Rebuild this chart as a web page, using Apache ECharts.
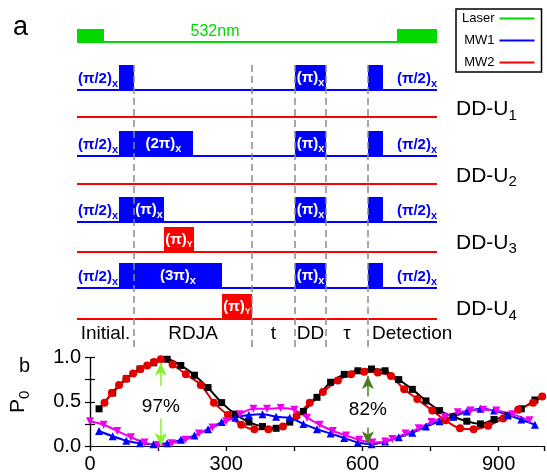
<!DOCTYPE html>
<html>
<head>
<meta charset="utf-8">
<script src="https://cdn.jsdelivr.net/npm/echarts@6/dist/echarts.min.js"></script>
<style>
  html, body { margin: 0; padding: 0; background: #fff; }
  #chart { width: 547px; height: 474px; }
</style>
</head>
<body>
<div id="chart"></div>
<script>
const F = '"Liberation Sans", Arial, sans-serif';

// ---------- panel a : pulse sequence (schematic time units) ----------
const laserPulses = [[0, 27], [320, 360]];
const seqEnd = 360;
const rowNames = ['1', '2', '3', '4'];
// MW1 pulses: [row, start, end, rotation]
const mw1Pulses = [
  [0, 42, 57, ''], [0, 218, 249, 'π'], [0, 291, 306, ''],
  [1, 42, 57, ''], [1, 57, 116, '2π'], [1, 218, 249, 'π'], [1, 291, 306, ''],
  [2, 42, 57, ''], [2, 57, 87, 'π'], [2, 218, 249, 'π'], [2, 291, 306, ''],
  [3, 42, 57, ''], [3, 57, 145, '3π'], [3, 218, 249, 'π'], [3, 291, 306, '']
];
// MW2 pulses: [row, start, end, rotation]
const mw2Pulses = [[2, 87, 117, 'π'], [3, 145, 175, 'π']];
const dashTimes = [57, 175, 218, 249, 291];
const stageEdges = [0, 57, 175, 218, 249, 291, 360];
const stageNames = ['Initial.', 'RDJA', 't', 'DD', 'τ', 'Detection'];

// ---------- panel b : P0 vs evolution time ----------
const blackT = [20, 50, 80, 110, 140, 170, 200, 230, 260, 290, 320, 350, 380, 410, 440, 470, 500, 530, 560, 590, 620, 650, 680, 710, 740, 770, 800, 830, 860, 890, 920, 950, 980];
const blackP = [0.42, 0.60, 0.76, 0.87, 0.94, 0.98, 0.91, 0.80, 0.66, 0.49, 0.36, 0.27, 0.22, 0.20, 0.27, 0.39, 0.55, 0.72, 0.81, 0.85, 0.87, 0.85, 0.75, 0.64, 0.51, 0.40, 0.33, 0.28, 0.25, 0.30, 0.34, 0.42, 0.52];
const redT = [32, 48, 64, 80, 95, 111, 126, 141, 156, 182, 211, 244, 273, 304, 333, 362, 393, 425, 455, 484, 513, 546, 575, 604, 634, 663, 692, 721, 754, 783, 815, 845, 877, 910, 943, 976, 996];
const redP = [0.49, 0.60, 0.69, 0.76, 0.82, 0.87, 0.91, 0.95, 0.98, 0.92, 0.81, 0.69, 0.49, 0.35, 0.24, 0.19, 0.19, 0.22, 0.34, 0.49, 0.61, 0.74, 0.81, 0.84, 0.83, 0.79, 0.64, 0.53, 0.40, 0.29, 0.20, 0.19, 0.23, 0.31, 0.41, 0.49, 0.56];
const blueT = [20, 50, 80, 110, 140, 170, 200, 230, 260, 290, 320, 350, 380, 410, 440, 470, 500, 530, 560, 590, 620, 650, 680, 710, 740, 770, 800, 830, 860, 890, 920, 950, 980];
const blueP = [0.17, 0.11, 0.06, 0.03, 0.02, 0.03, 0.07, 0.12, 0.19, 0.27, 0.32, 0.35, 0.36, 0.33, 0.32, 0.25, 0.19, 0.14, 0.09, 0.04, 0.02, 0.05, 0.10, 0.15, 0.22, 0.28, 0.33, 0.39, 0.42, 0.40, 0.35, 0.30, 0.24];
const magT = [0, 30, 60, 90, 120, 150, 180, 210, 240, 270, 300, 330, 360, 390, 420, 450, 478, 506, 535, 564, 593, 622, 650, 666, 695, 724, 752, 781, 810, 838, 866, 895, 930, 968];
const magP = [0.28, 0.24, 0.17, 0.10, 0.04, 0.01, 0.03, 0.07, 0.14, 0.21, 0.28, 0.36, 0.42, 0.42, 0.43, 0.41, 0.32, 0.24, 0.17, 0.12, 0.07, 0.04, 0.05, 0.08, 0.14, 0.20, 0.27, 0.33, 0.38, 0.40, 0.41, 0.40, 0.36, 0.29];
// contrast arrows: [t, from P, to P (arrow head)]
const arrowSegs = [[156, 0.68, 0.94], [156, 0.31, 0.0], [612, 0.56, 0.79], [612, 0.21, 0.02]];
const contrastT = [156, 612];
const contrastP = [0.44, 0.41];
const contrastText = ['97%', '82%'];

// ---------- layout of panel a (axis units = px of schematic) ----------
const laserY = 42, laserH = 13;
const mw1Line = [90, 156, 222, 288];
const mw2Line = [117, 184, 252, 319];
const pulseH = 25;
const GREEN = '#00d800', BLUE = '#0000ff', RED = '#ff0000';

const subRich = (sub) => ({
  m: { fontSize: 15, fontWeight: 'bold', fontFamily: F },
  s: { fontSize: sub, fontWeight: 'bold', fontFamily: F, verticalAlign: 'bottom', padding: [9, 0, 0, 0] }
});

function txt(p, text, fill, align, rich, extra) {
  return {
    type: 'text',
    style: Object.assign({ x: p[0], y: p[1], text: text, fill: fill, align: align,
      verticalAlign: 'middle', rich: rich, fontFamily: F }, extra || {})
  };
}

function pulseRender(list, lines, color, subLetter, subSize) {
  return function (params, api) {
    const d = list[params.dataIndex];
    const base = lines[d[0]];
    const p0 = api.coord([d[1], base]);
    const p1 = api.coord([d[2], base - pulseH]);
    const kids = [{
      type: 'rect',
      shape: { x: p0[0], y: p1[1], width: p1[0] - p0[0], height: p0[1] - p1[1] },
      style: { fill: color }
    }];
    if (d[3]) {
      const c = api.coord([(d[1] + d[2]) / 2, base - 12]);
      kids.push(txt(c, '{m|(' + d[3] + ')}{s|' + subLetter + '}', '#fff', 'center', subRich(subSize)));
    }
    return { type: 'group', children: kids };
  };
}

const series = [];
// channel base lines
series.push({ name: 'Laser', type: 'line', xAxisIndex: 0, yAxisIndex: 0, data: [[0, laserY], [seqEnd, laserY]],
  symbol: 'none', color: GREEN, lineStyle: { width: 2, color: GREEN }, silent: true });
mw1Line.forEach(y => series.push({ name: 'MW1', type: 'line', xAxisIndex: 0, yAxisIndex: 0,
  data: [[0, y], [seqEnd, y]], symbol: 'none', color: BLUE, lineStyle: { width: 2, color: BLUE }, silent: true }));
mw2Line.forEach(y => series.push({ name: 'MW2', type: 'line', xAxisIndex: 0, yAxisIndex: 0,
  data: [[0, y], [seqEnd, y]], symbol: 'none', color: RED, lineStyle: { width: 2, color: RED }, silent: true }));

// laser pulses + wavelength label
series.push({
  name: 'laserPulses', type: 'custom', xAxisIndex: 0, yAxisIndex: 0, clip: false, silent: true,
  data: laserPulses,
  renderItem: (params, api) => {
    const d = laserPulses[params.dataIndex];
    const p0 = api.coord([d[0], laserY]), p1 = api.coord([d[1], laserY - laserH]);
    const kids = [{ type: 'rect', shape: { x: p0[0], y: p1[1], width: p1[0] - p0[0], height: p0[1] - p1[1] + 1 }, style: { fill: GREEN } }];
    if (params.dataIndex === 0) {
      kids.push(txt(api.coord([138, laserY - 10]), '532nm', GREEN, 'center', null, { fontSize: 16 }));
    }
    return { type: 'group', children: kids };
  }
});

series.push({ name: 'mw1Pulses', type: 'custom', xAxisIndex: 0, yAxisIndex: 0, clip: false, silent: true,
  data: mw1Pulses.map(d => [d[1], d[2]]), renderItem: pulseRender(mw1Pulses, mw1Line, BLUE, 'x', 11) });
series.push({ name: 'mw2Pulses', type: 'custom', xAxisIndex: 0, yAxisIndex: 0, clip: false, silent: true,
  data: mw2Pulses.map(d => [d[1], d[2]]), renderItem: pulseRender(mw2Pulses, mw2Line, RED, 'Y', 9) });

// side labels (π/2)x and row names
series.push({
  name: 'rowLabels', type: 'custom', xAxisIndex: 0, yAxisIndex: 0, clip: false, silent: true,
  data: rowNames.map((n, i) => [i, i]),
  renderItem: (params, api) => {
    const i = params.dataIndex;
    const base = mw1Line[i];
    const lbl = '{m|(π/2)}{s|x}';
    return {
      type: 'group', children: [
        txt(api.coord([41, base - 11]), lbl, BLUE, 'right', subRich(11)),
        txt(api.coord([seqEnd, base - 11]), lbl, BLUE, 'right', subRich(11)),
        txt(api.coord([seqEnd + 19, (base + mw2Line[i]) / 2 + 6]), '{m|DD-U}{s|' + rowNames[i] + '}', '#000', 'left', {
          m: { fontSize: 21, fontFamily: F },
          s: { fontSize: 15, fontFamily: F, verticalAlign: 'bottom', padding: [12, 0, 0, 0] }
        })
      ]
    };
  }
});

// dashed stage separators
series.push({
  name: 'dashes', type: 'custom', xAxisIndex: 0, yAxisIndex: 0, clip: false, silent: true, z: 5,
  data: dashTimes.map(t => [t, 0]),
  renderItem: (params, api) => {
    const t = dashTimes[params.dataIndex];
    const a = api.coord([t, 65]), b = api.coord([t, 347]);
    return { type: 'line', shape: { x1: a[0], y1: a[1], x2: b[0], y2: b[1] },
      style: { stroke: '#8a8a8a', lineWidth: 1.5, lineDash: [7, 4] } };
  }
});

// stage names
series.push({
  name: 'stages', type: 'custom', xAxisIndex: 0, yAxisIndex: 0, clip: false, silent: true,
  data: stageNames.map((n, i) => [i, 0]),
  renderItem: (params, api) => {
    const i = params.dataIndex;
    const last = i === stageNames.length - 1;
    const t = last ? stageEdges[i] + 4 : (stageEdges[i] + stageEdges[i + 1]) / 2;
    return txt(api.coord([t, 334]), stageNames[i], '#000', last ? 'left' : 'center', null, { fontSize: 19 });
  }
});

// panel b data
const pts = (t, p) => t.map((v, i) => [v, p[i]]);
const bCommon = { type: 'line', xAxisIndex: 1, yAxisIndex: 1, smooth: 0.35, silent: true, lineStyle: { width: 2 } };
series.push(Object.assign({}, bCommon, { name: 'sq', data: pts(blackT, blackP), color: '#000', symbol: 'rect', symbolSize: 7 }));
series.push(Object.assign({}, bCommon, { name: 'ci', data: pts(redT, redP), color: '#e00000', symbol: 'circle', symbolSize: 8 }));
series.push(Object.assign({}, bCommon, { name: 'up', data: pts(blueT, blueP), color: '#0000ff', symbol: 'triangle', symbolSize: 8 }));
series.push(Object.assign({}, bCommon, { name: 'dn', data: pts(magT, magP), color: '#ee00ee', symbol: 'triangle', symbolRotate: 180, symbolSize: 8 }));

// contrast arrows and labels
const arrowColors = ['#86f02a', '#86f02a', '#4a7d22', '#4a7d22'];
series.push({
  name: 'contrast', type: 'line', xAxisIndex: 1, yAxisIndex: 1, data: [], silent: true,
  markLine: {
    silent: true, animation: false, symbol: ['none', 'arrow'], symbolSize: [9, 13], label: { show: false },
    data: arrowSegs.map((s, i) => [
      { coord: [s[0], s[1]], lineStyle: { color: arrowColors[i], width: 1.5, type: 'solid' }, itemStyle: { color: arrowColors[i] } },
      { coord: [s[0], s[2]] }
    ])
  },
  markPoint: {
    silent: true, animation: false, symbol: 'circle', symbolSize: 0,
    label: { show: true, position: 'inside', fontSize: 19, fontFamily: F, color: '#000', formatter: p => p.name },
    data: contrastT.map((t, i) => ({ name: contrastText[i], coord: [t, contrastP[i]] }))
  }
});

const axisBlack = { lineStyle: { color: '#000', width: 1.2 } };
const option = {
  animation: false,
  backgroundColor: '#fff',
  title: [
    { text: 'a', left: 8, top: 9, textStyle: { fontSize: 27, fontWeight: 'normal', fontFamily: F, color: '#000' } },
    { text: 'b', left: 14, top: 351, textStyle: { fontSize: 20, fontWeight: 'normal', fontFamily: F, color: '#000' } }
  ],
  legend: {
    data: ['Laser', 'MW1', 'MW2'], selectedMode: false, orient: 'vertical', left: 456, top: 9,
    align: 'right', itemWidth: 35, itemHeight: 12, itemGap: 9, padding: [3, 6, 3, 6],
    borderColor: '#000', borderWidth: 1.5, backgroundColor: '#fff',
    itemStyle: { opacity: 0, borderWidth: 0 },
    lineStyle: { width: 2 },
    textStyle: { fontSize: 13, fontFamily: F, color: '#000', width: 38 }
  },
  grid: [
    { left: 77, top: 0, width: 360, height: 350 },
    { left: 86.5, top: 357.5, right: 2.5, bottom: 26.5 }
  ],
  xAxis: [
    { gridIndex: 0, type: 'value', min: 0, max: seqEnd, show: false },
    { gridIndex: 1, type: 'value', min: 0, max: 1000, interval: 150, position: 'bottom',
      axisLine: axisBlack, axisTick: { length: 5, lineStyle: { color: '#000', width: 1.2 } },
      axisLabel: { margin: 8, fontSize: 20, fontFamily: F, color: '#000', formatter: v => (v % 300 === 0 ? String(v) : '') },
      splitLine: { show: false } },
    { gridIndex: 1, type: 'value', min: 0, max: 1000, interval: 150, position: 'top',
      axisLine: axisBlack, axisTick: { inside: true, length: 5, lineStyle: { color: '#000', width: 1.2 } },
      axisLabel: { show: false }, splitLine: { show: false } }
  ],
  yAxis: [
    { gridIndex: 0, type: 'value', min: 0, max: 350, inverse: true, show: false },
    { gridIndex: 1, type: 'value', min: 0, max: 1, interval: 0.25, position: 'left',
      axisLine: axisBlack, axisTick: { inside: true, length: 5, lineStyle: { color: '#000', width: 1.2 } },
      axisLabel: { margin: 9, fontSize: 20, fontFamily: F, color: '#000', formatter: v => (Math.round(v * 4) % 2 === 0 ? v.toFixed(1) : '') },
      splitLine: { show: false },
      name: '{p|P}{s|0}', nameLocation: 'middle', nameRotate: 90, nameGap: 58,
      nameTextStyle: { rich: {
        p: { fontSize: 21, fontFamily: F, color: '#000' },
        s: { fontSize: 15, fontFamily: F, color: '#000', verticalAlign: 'bottom', padding: [12, 0, 0, 0] }
      } } },
    { gridIndex: 1, type: 'value', min: 0, max: 1, interval: 0.25, position: 'right',
      axisLine: axisBlack, axisTick: { inside: true, length: 5, lineStyle: { color: '#000', width: 1.2 } },
      axisLabel: { show: false }, splitLine: { show: false } }
  ],
  series: series
};

const chart = echarts.init(document.getElementById('chart'), null, { renderer: 'canvas' });
chart.setOption(option);
</script>
</body>
</html>
